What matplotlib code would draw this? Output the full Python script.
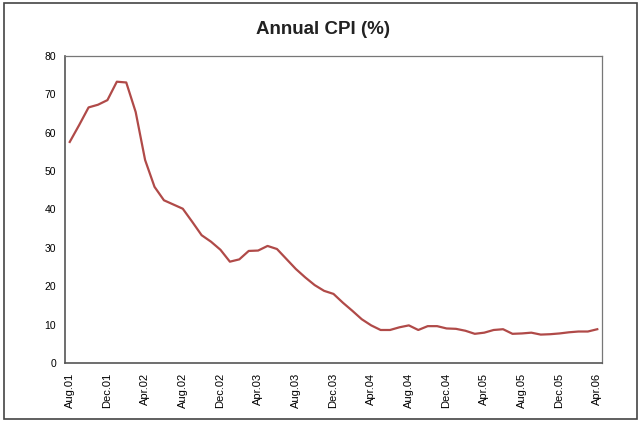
import matplotlib
matplotlib.use("Agg")
import matplotlib.pyplot as plt

plt.rcParams['font.family'] = ['Liberation Sans', 'DejaVu Sans']

# monthly annual CPI, Aug 2001 - Apr 2006
months = ['Aug.01', 'Sep.01', 'Oct.01', 'Nov.01', 'Dec.01',
          'Jan.02', 'Feb.02', 'Mar.02', 'Apr.02', 'May.02', 'Jun.02', 'Jul.02',
          'Aug.02', 'Sep.02', 'Oct.02', 'Nov.02', 'Dec.02',
          'Jan.03', 'Feb.03', 'Mar.03', 'Apr.03', 'May.03', 'Jun.03', 'Jul.03',
          'Aug.03', 'Sep.03', 'Oct.03', 'Nov.03', 'Dec.03',
          'Jan.04', 'Feb.04', 'Mar.04', 'Apr.04', 'May.04', 'Jun.04', 'Jul.04',
          'Aug.04', 'Sep.04', 'Oct.04', 'Nov.04', 'Dec.04',
          'Jan.05', 'Feb.05', 'Mar.05', 'Apr.05', 'May.05', 'Jun.05', 'Jul.05',
          'Aug.05', 'Sep.05', 'Oct.05', 'Nov.05', 'Dec.05',
          'Jan.06', 'Feb.06', 'Mar.06', 'Apr.06']
cpi = [57.6, 62.0, 66.6, 67.3, 68.5,
       73.3, 73.1, 65.4, 52.9, 45.9, 42.4, 41.3,
       40.2, 36.8, 33.3, 31.6, 29.5,
       26.4, 27.0, 29.2, 29.3, 30.5, 29.7, 27.1,
       24.5, 22.3, 20.3, 18.8, 18.0,
       15.7, 13.6, 11.4, 9.8, 8.6, 8.6, 9.3,
       9.8, 8.6, 9.6, 9.6, 9.0,
       8.9, 8.4, 7.6, 7.9, 8.6, 8.8, 7.6,
       7.7, 7.9, 7.4, 7.5, 7.7,
       8.0, 8.2, 8.2, 8.8]
yticks = [0, 10, 20, 30, 40, 50, 60, 70, 80]

fig = plt.figure(figsize=(6.4, 4.21), dpi=100)
ax = fig.add_axes([0.1016, 0.1378, 0.8390, 0.7292])

x = list(range(len(cpi)))
ax.plot(x, cpi, color='#b04a48', linewidth=1.6, solid_joinstyle='round')

ax.set_xlim(-0.5, len(cpi) - 0.5)
ax.set_ylim(0, 80)
ax.set_yticks(yticks)
ax.set_xticks(x[::4])
ax.set_xticklabels(months[::4], rotation=90, fontsize=8)
ax.tick_params(axis='y', labelsize=7.5, length=0, pad=6.5)
ax.tick_params(axis='x', length=0, pad=7)

for side in ['left', 'bottom']:
    ax.spines[side].set_color('#555555')
    ax.spines[side].set_linewidth(1.2)
for side in ['top', 'right']:
    ax.spines[side].set_color('#777777')
    ax.spines[side].set_linewidth(0.9)

fig.text(0.505, 0.93, 'Annual CPI (%)', ha='center', va='center',
         fontsize=13.5, fontweight='bold', color='#222222')

# outer chart frame
frame = plt.Rectangle((0.007, 0.005), 0.988, 0.988, transform=fig.transFigure,
                      fill=False, edgecolor='#444444', linewidth=1.2)
fig.patches.append(frame)

fig.savefig('out.png', dpi=100)
